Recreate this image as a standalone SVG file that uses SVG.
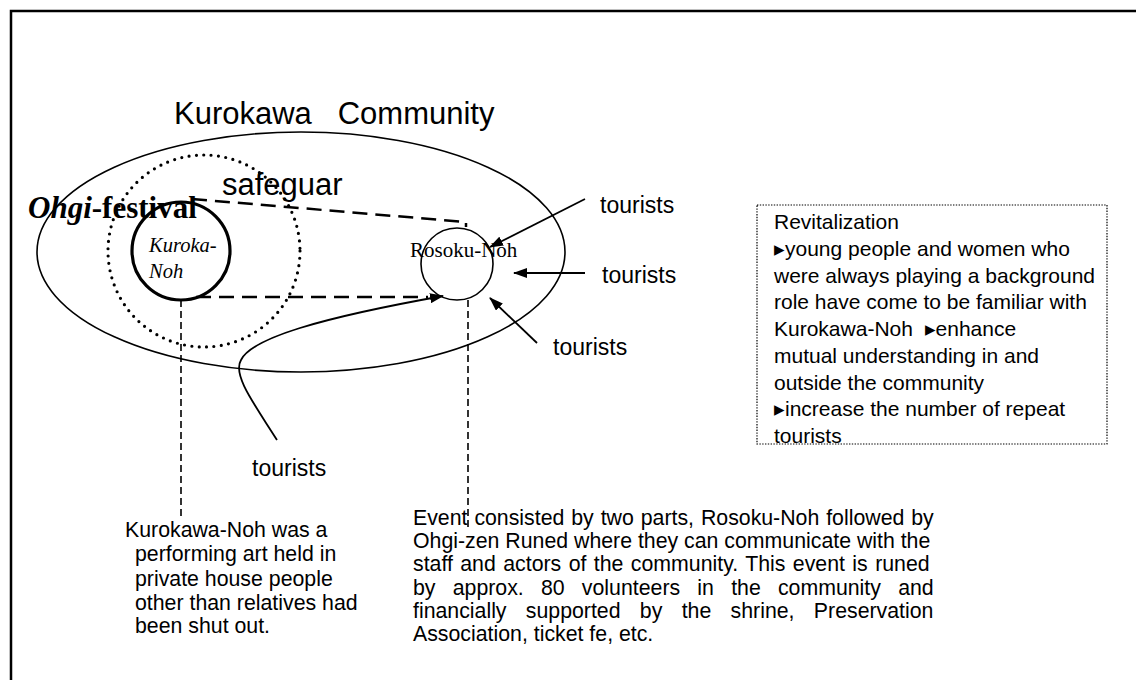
<svg xmlns="http://www.w3.org/2000/svg" width="1136" height="680" viewBox="0 0 1136 680">
<style>
.sans{font-family:"Liberation Sans",Arial,sans-serif;fill:#000}
.serif{font-family:"Liberation Serif","Times New Roman",serif;fill:#000}
.body{font-size:21.3px}
.tour{font-size:23px}
.ln{fill:none;stroke:#000}
</style>
<defs>
<marker id="ah" viewBox="0 0 14 10" refX="13" refY="5" markerWidth="14" markerHeight="10" markerUnits="userSpaceOnUse" orient="auto">
<path d="M0,0 L14,5 L0,10 z" fill="#000"/>
</marker>
</defs>
<rect width="1136" height="680" fill="#fff"/>
<path d="M11,700 V11 H1150" class="ln" stroke-width="2.5"/>

<g id="community">
<ellipse cx="301" cy="252" rx="264" ry="120" class="ln" stroke-width="1.6"/>
<text x="174" y="124" class="sans" font-size="31" xml:space="preserve">Kurokawa   Community</text>
</g>

<g id="safeguard">
<circle cx="204" cy="251" r="96" class="ln" stroke-width="3.2" stroke-dasharray="0 7.4" stroke-linecap="round"/>
</g>

<g id="connectors">
<path d="M192,199 L466,222 V227" class="ln" stroke-width="2.5" stroke-dasharray="15 8"/>
<path d="M196,297 L428,297" class="ln" stroke-width="2.5" stroke-dasharray="15 8"/>
<path d="M181,300 V517" class="ln" stroke-width="1.6" stroke-dasharray="7 4"/>
<path d="M468,300 V527" class="ln" stroke-width="1.6" stroke-dasharray="7 4"/>
<path d="M585,199 L490,247" class="ln" stroke-width="1.8" marker-end="url(#ah)"/>
<path d="M585,273 L514,273" class="ln" stroke-width="1.8" marker-end="url(#ah)"/>
<path d="M537,343 L490,298" class="ln" stroke-width="1.8" marker-end="url(#ah)"/>
<path d="M277,440 C255,405 232,375 241,360 C252,338 320,318 443,296" class="ln" stroke-width="1.8" marker-end="url(#ah)"/>
</g>

<g id="safeguar-label">
<text x="222" y="195" class="sans" font-size="31">safeguar</text>
</g>

<g id="ohgi-festival">
<text x="28" y="218" class="serif" font-size="31" font-weight="bold"><tspan font-style="italic">Ohgi</tspan>-festival</text>
</g>

<g id="kuroka-noh">
<circle cx="181" cy="251" r="49" class="ln" stroke-width="3.2"/>
<text class="serif" font-size="20.5" font-style="italic"><tspan x="149" y="252">Kuroka-</tspan><tspan x="149" y="278">Noh</tspan></text>
</g>

<g id="rosoku-noh">
<circle cx="457" cy="264" r="36" class="ln" stroke-width="1.6"/>
<text x="410" y="257" class="serif" font-size="21">Rosoku-Noh</text>
</g>

<g id="tourists">
<text x="600" y="213" class="sans tour">tourists</text>
<text x="602" y="283" class="sans tour">tourists</text>
<text x="553" y="355" class="sans tour">tourists</text>
<text x="252" y="476" class="sans tour">tourists</text>
</g>

<g id="revitalization">
<rect x="757" y="205" width="350" height="239" fill="none" stroke="#000" stroke-width="1.2" stroke-dasharray="1.4 1.4"/>
<text class="sans" font-size="21">
<tspan x="774" y="229">Revitalization</tspan>
<tspan x="774" y="256">▸young people and women who</tspan>
<tspan x="774" y="283">were always playing a background</tspan>
<tspan x="774" y="309">role have come to be familiar with</tspan>
<tspan x="774" y="336" xml:space="preserve">Kurokawa-Noh  ▸enhance</tspan>
<tspan x="774" y="363">mutual understanding in and</tspan>
<tspan x="774" y="390">outside the community</tspan>
<tspan x="774" y="416">▸increase the number of repeat</tspan>
<tspan x="774" y="443">tourists</tspan>
</text>
</g>

<g id="kurokawa-note">
<text class="sans body">
<tspan x="125" y="537">Kurokawa-Noh was a</tspan>
<tspan x="135" y="561">performing art held in</tspan>
<tspan x="135" y="586">private house people</tspan>
<tspan x="135" y="610">other than relatives had</tspan>
<tspan x="135" y="633">been shut out.</tspan>
</text>
</g>

<g id="event-note">
<text class="sans body">
<tspan x="413" y="525" word-spacing="1">Event consisted by two parts, Rosoku-Noh followed by</tspan>
<tspan x="413" y="548">Ohgi-zen Runed where they can communicate with the</tspan>
<tspan x="413" y="571" word-spacing="1.5">staff and actors of the community. This event is runed</tspan>
<tspan x="413" y="595" word-spacing="11.3">by approx. 80 volunteers in the community and</tspan>
<tspan x="413" y="618" word-spacing="13.4">financially supported by the shrine, Preservation</tspan>
<tspan x="413" y="641">Association, ticket fe, etc.</tspan>
</text>
</g>
</svg>
